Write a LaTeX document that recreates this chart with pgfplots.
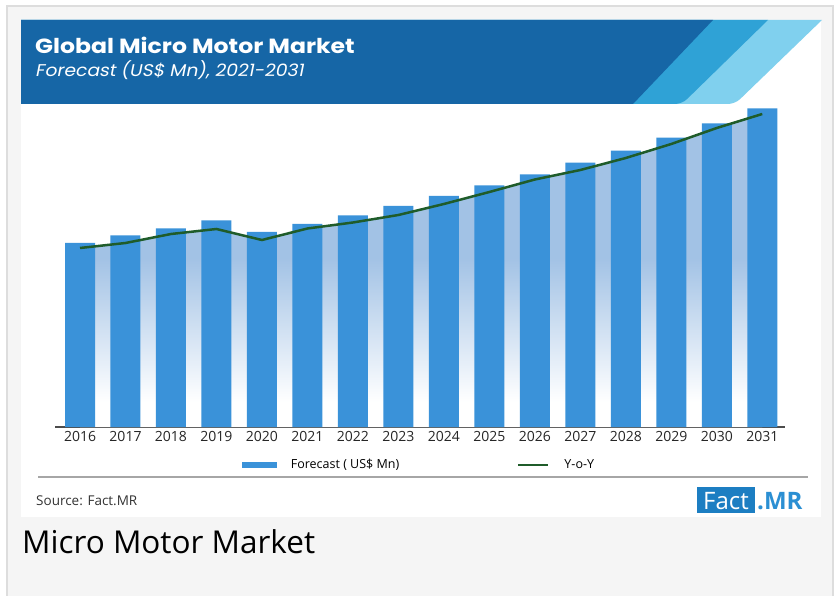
\documentclass[border=0pt]{standalone}
\usepackage{fontspec}
\setmainfont{Open Sans}
\newfontfamily\pop{Poppins}[FakeStretch=1.15]
\newfontfamily\popit{Poppins}[FakeSlant=0.2, FakeStretch=1.1]
\usepackage{pgfplots}
\usepackage{pgfplotstable}
\pgfplotsset{compat=1.18}
\definecolor{barblue}{HTML}{3A92D9}
\definecolor{gapblue}{HTML}{A2C2E5}
\definecolor{lineg}{HTML}{1F5C2A}
\definecolor{hdark}{HTML}{1666A6}
\definecolor{hmid}{HTML}{2FA2D6}
\definecolor{hlight}{HTML}{80D0EE}
\definecolor{bggray}{HTML}{F5F5F5}
\definecolor{bordergray}{HTML}{DDDDDD}
\definecolor{logoblue}{HTML}{1C7EC2}
\definecolor{mrblue}{HTML}{2B8FD3}
\pgfdeclareverticalshading{gapfade}{100bp}{color(0bp)=(white); color(29bp)=(white); color(52bp)=(gapblue); color(100bp)=(gapblue)}
\pgfplotstableread{
x bar line
0 184 179
1 191.5 184
2 198.5 193
3 206.5 198
4 195 187
5 203 198.5
6 211.5 204.5
7 221 212
8 231 223
9 241.5 235
10 252.7 247.5
11 264.3 257
12 276.3 269
13 289.3 283
14 303.7 299
15 318.7 313
}\datatab
\begin{document}
\begin{tikzpicture}
\begin{scope}[x=1pt,y=-1pt]
\useasboundingbox (0,0) rectangle (836,596);
\fill[white] (0,0) rectangle (836,596);
\fill[bggray] (7,6) rectangle (833,596);
\draw[bordergray, line width=1.5] (7,596) -- (7,6) -- (833,6) -- (833,596);
\fill[white] (21,20) rectangle (821,517);
% header
\fill[hlight] (21,20) -- (822,20) [rounded corners=7pt] -- (735,104) [sharp corners] -- (21,104) -- cycle;
\fill[hmid] (21,20) -- (768,20) [rounded corners=7pt] -- (682,104) [sharp corners] -- (21,104) -- cycle;
\fill[hdark] (21,20) -- (713,20) -- (633,104) -- (21,104) -- cycle;
\node[anchor=base west, text=white, inner sep=0pt] at (35,54) {\pop\bfseries\fontsize{20.5}{24}\selectfont Global Micro Motor Market};
\node[anchor=base west, text=white, inner sep=0pt] at (35,77) {\popit\fontsize{17}{20}\selectfont Forecast (US\$ Mn), 2021-2031};
% footer
\draw[black!35, line width=1.8] (38,477) -- (808,477);
\node[anchor=base west, text=black!80, inner sep=0pt] at (36,505) {\fontsize{13.5}{16}\selectfont Source: Fact.MR};
\fill[logoblue] (697,487) rectangle (755,513);
\node[anchor=base, text=white, inner sep=0pt] at (726,509) {\fontsize{24}{28}\selectfont Fact};
\node[anchor=base west, text=mrblue, inner sep=0pt] at (757,509) {\bfseries\fontsize{24}{28}\selectfont .MR};
\node[anchor=base west, text=black, inner sep=0pt] at (22,553) {\fontsize{31.5}{38}\selectfont Micro Motor Market};
\end{scope}
\begin{axis}[
  at={(55pt,-427pt)}, anchor=south west,
  scale only axis, width=730pt, height=322pt,
  xmin=-0.55, xmax=15.5, ymin=0, ymax=322,
  axis x line*=bottom, axis y line=none,
  x axis line style={draw=black!70, line width=1.5pt},
  xtick={0,1,2,3,4,5,6,7,8,9,10,11,12,13,14,15},
  xticklabels={2016,2017,2018,2019,2020,2021,2022,2023,2024,2025,2026,2027,2028,2029,2030,2031},
  major tick length=0pt,
  xticklabel style={font=\fontsize{14}{16}\selectfont, text=black!85, yshift=-0.5pt},
  ytick=\empty,
  clip=false,
  legend style={at={(axis description cs:0.4986,-0.118)}, anchor=center, draw=none, fill=none,
    legend columns=2, font=\fontsize{12.5}{15}\selectfont,
    /tikz/every even column/.append style={column sep=116pt}},
]
\addplot[draw=none, shading=gapfade, forget plot] table[x=x,y=line]{\datatab} \closedcycle;
\addplot[ybar, bar width=30pt, bar shift=0pt, fill=barblue, draw=none,
  legend image code/.code={\fill[barblue] (0pt,-3pt) rectangle (35pt,3pt); \path (47pt,0pt);}] table[x=x,y=bar]{\datatab};
\addplot[lineg, line width=2.5pt,
  legend image code/.code={\draw[lineg, line width=2pt] (0pt,0pt) -- (30pt,0pt); \path (43pt,0pt);}] table[x=x,y=line]{\datatab};
\legend{Forecast ( US\$ Mn), Y-o-Y}
\end{axis}
\end{tikzpicture}
\end{document}
